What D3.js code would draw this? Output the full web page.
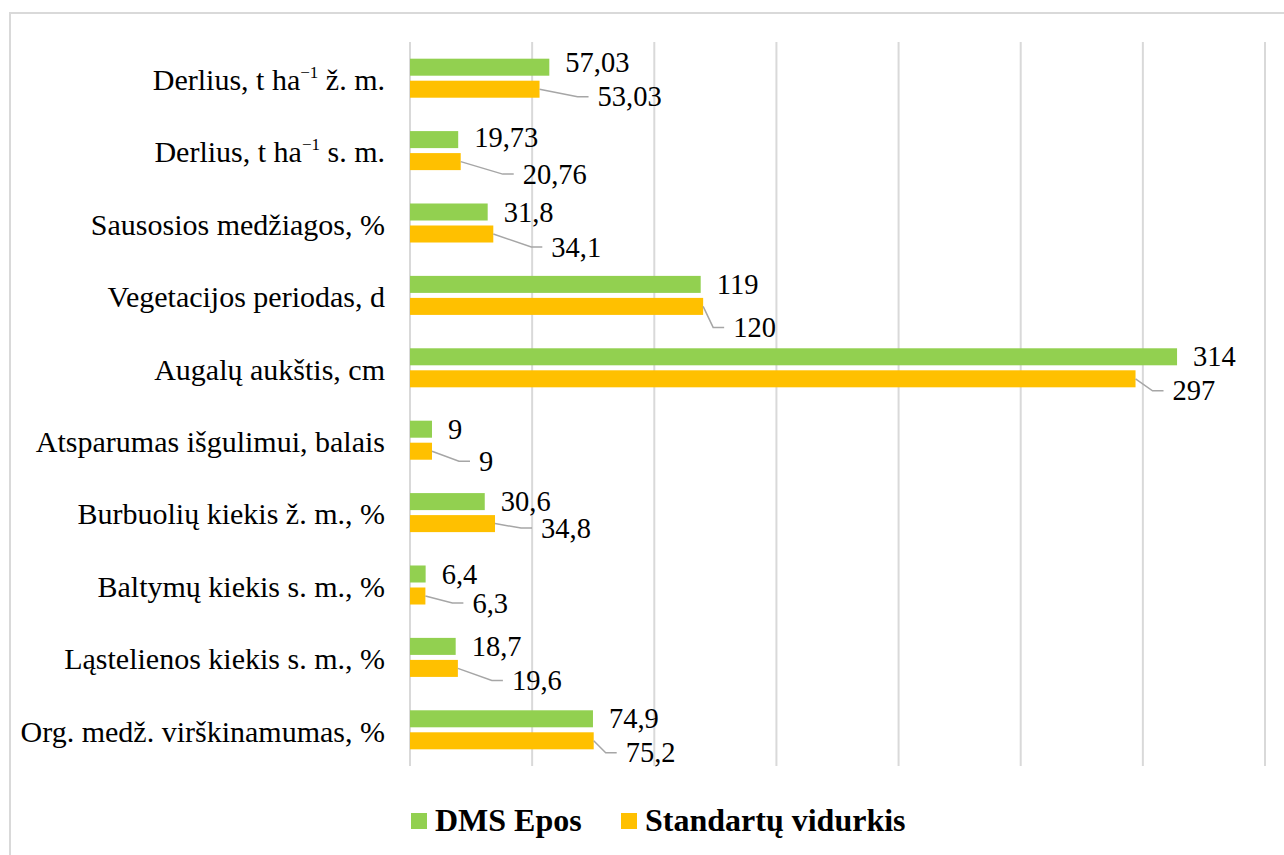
<!DOCTYPE html>
<html>
<head>
<meta charset="utf-8">
<script src="https://cdn.jsdelivr.net/npm/d3@7"></script>
<style>
  html, body { margin: 0; padding: 0; background: #fff; }
  svg { display: block; }
</style>
</head>
<body>
<svg id="chart" width="1284" height="855"></svg>
<script>
// ---- data ----
const categories = [
  "Derlius, t ha⁻¹ ž. m.",
  "Derlius, t ha⁻¹ s. m.",
  "Sausosios medžiagos, %",
  "Vegetacijos periodas, d",
  "Augalų aukštis, cm",
  "Atsparumas išgulimui, balais",
  "Burbuolių kiekis ž. m., %",
  "Baltymų kiekis s. m., %",
  "Ląstelienos kiekis s. m., %",
  "Org. medž. virškinamumas, %"
];
const seriesNames = ["DMS Epos", "Standartų vidurkis"];
const dmsValues = [57.03, 19.73, 31.8, 119, 314, 9, 30.6, 6.4, 18.7, 74.9];
const stdValues = [53.03, 20.76, 34.1, 120, 297, 9, 34.8, 6.3, 19.6, 75.2];
const xTicks = [0, 50, 100, 150, 200, 250, 300, 350];

// ---- layout (label nudges, as placed in the original) ----
const stdLabelDx = [58, 62, 58, 30, 37, 47, 46, 47, 54, 32];
const stdLabelDy = [7.5, 12.5, 13, 21, 12, 10, 4.5, 7, 12, 12];
const dmsLabelDy = [-4.5, -2, 0, 0, 0, 0, 0, 0, 0, 0];
const colors = ["#92D050", "#FFC000"];
const FONT = "'Liberation Serif', 'Times New Roman', Tinos, 'DejaVu Serif', serif";

const svg = d3.select("#chart")
  .attr("font-family", FONT)
  .style("font-family", FONT);

// outer frame
svg.append("rect")
  .attr("x", 10).attr("y", 13)
  .attr("width", 1400).attr("height", 1000)
  .attr("fill", "none").attr("stroke", "#d9d9d9").attr("stroke-width", 2);

const x = d3.scaleLinear().domain([0, 350]).range([410, 1265]);
const y0 = d3.scaleBand().domain(categories).range([42, 766])
  .paddingInner(0.461).paddingOuter(0.2305);
const y1 = d3.scaleBand().domain(seriesNames).range([0, y0.bandwidth()])
  .paddingInner(0.227);

// gridlines
svg.append("g").selectAll("line").data(xTicks).join("line")
  .attr("x1", d => x(d)).attr("x2", d => x(d))
  .attr("y1", 42).attr("y2", 766)
  .attr("stroke", "#d9d9d9").attr("stroke-width", 2);

// category labels
const catG = svg.append("g");
categories.forEach((c, i) => {
  const cy = y0(c) + y0.bandwidth() / 2 + 11.8;
  const t = catG.append("text")
    .attr("x", 385).attr("y", cy)
    .attr("text-anchor", "end")
    .attr("font-family", FONT)
    .attr("font-size", 30);
  if (c.includes("⁻¹")) {
    const parts = c.split("⁻¹");
    t.append("tspan").text(parts[0]);
    t.append("tspan").attr("dy", -12).attr("font-size", 17).text("−1");
    t.append("tspan").attr("dy", 12).text(parts[1]);
  } else {
    t.text(c);
  }
});

const fmt = v => String(v).replace(".", ",");

// bars
const rows = categories.map((c, i) => ({ c, i, vals: [dmsValues[i], stdValues[i]] }));
const groups = svg.append("g").selectAll("g").data(rows).join("g")
  .attr("transform", d => `translate(0,${y0(d.c)})`);

groups.selectAll("rect").data(d => d.vals.map((v, k) => ({ v, k })))
  .join("rect")
  .attr("x", x(0))
  .attr("y", d => y1(seriesNames[d.k]))
  .attr("width", d => x(d.v) - x(0))
  .attr("height", y1.bandwidth())
  .attr("fill", d => colors[d.k]);

// labels for DMS Epos
const halfDigit = 9.6;
groups.append("text")
  .attr("x", d => x(d.vals[0]) + 16)
  .attr("y", d => y1(seriesNames[0]) + y1.bandwidth() / 2 + dmsLabelDy[d.i] + halfDigit)
  .attr("font-family", FONT)
  .attr("font-size", 28.5)
  .text(d => fmt(d.vals[0]));

// labels + leader lines for Standartų vidurkis
groups.each(function(d) {
  const g = d3.select(this);
  const ex = x(d.vals[1]);
  const cy = y1(seriesNames[1]) + y1.bandwidth() / 2;
  const lx = ex + stdLabelDx[d.i];
  const ly = cy + stdLabelDy[d.i];
  g.append("path")
    .attr("d", `M${ex},${cy}L${lx - 20},${ly}L${lx - 9},${ly}`)
    .attr("fill", "none").attr("stroke", "#a6a6a6").attr("stroke-width", 1.5);
  g.append("text")
    .attr("x", lx).attr("y", ly + halfDigit)
    .attr("font-family", FONT)
    .attr("font-size", 28.5)
    .text(fmt(d.vals[1]));
});

// legend
const legendX = [411, 621];
const lg = svg.append("g");
seriesNames.forEach((s, k) => {
  lg.append("rect").attr("x", legendX[k]).attr("y", 813)
    .attr("width", 16).attr("height", 16).attr("fill", colors[k]);
  lg.append("text").attr("x", legendX[k] + 24).attr("y", 831)
    .attr("font-family", FONT)
    .attr("font-size", 32).attr("font-weight", "bold").text(s);
});
</script>
</body>
</html>
